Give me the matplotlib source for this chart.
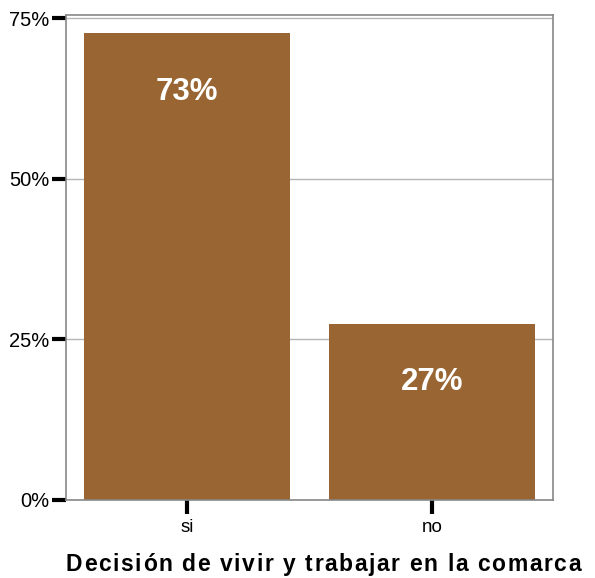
import matplotlib
matplotlib.use('Agg')
import matplotlib.pyplot as plt
from matplotlib.ticker import PercentFormatter

plt.rcParams['font.family'] = ['Liberation Sans', 'DejaVu Sans']

# datos
categorias = ['si', 'no']
porcentajes = [0.726, 0.274]
etiquetas = ['73%', '27%']
yticks = [0, 0.25, 0.50, 0.75]
titulo_x = 'Decisión de vivir y trabajar en la comarca'

fig = plt.figure(figsize=(5.95, 5.78), dpi=100)
ax = fig.add_axes([0.111, 0.135, 0.818, 0.839])

x = range(len(categorias))
ax.bar(x, porcentajes, width=0.84, color='#996633', zorder=2)

# etiquetas blancas dentro de las barras
for xi, v, t in zip(x, porcentajes, etiquetas):
    ax.text(xi, v - 0.091, t, ha='center', va='center', color='white',
            fontsize=22.5, fontweight='bold', zorder=3)

ax.set_xlim(-0.494, 1.494)
ax.set_ylim(0, 0.7547)
ax.set_xticks(list(x))
ax.set_xticklabels(categorias)
ax.set_yticks(yticks)
ax.yaxis.set_major_formatter(PercentFormatter(1.0, decimals=0))
ax.tick_params(axis='y', labelsize=14.5, length=10, width=3, color='black', pad=2)
ax.tick_params(axis='x', labelsize=13.5, length=10, width=3, color='black', pad=4)

ax.grid(axis='y', color='#b4b4b4', linewidth=1, zorder=1)
for s in ax.spines.values():
    s.set_color('#888888')
    s.set_linewidth(1.2)

# titulo del eje x con espaciado entre letras
renderer = fig.canvas.get_renderer()
tam = 16.5
track = 1.6

def ancho(s):
    t = fig.text(0, 0, s + '|', fontsize=tam, fontweight='bold')
    w = t.get_window_extent(renderer).width
    t.remove()
    return w

base = ancho('')
n = len(titulo_x)
total = ancho(titulo_x) - base + (n - 1) * track
W = fig.get_figwidth() * fig.dpi
inicio = 0.543 * W - total / 2
for i, c in enumerate(titulo_x):
    px = inicio + ancho(titulo_x[:i]) - base + i * track
    fig.text(px / W, 0.023, c, ha='left', va='center', fontsize=tam,
             fontweight='bold')

fig.savefig('out.png', dpi=100)
